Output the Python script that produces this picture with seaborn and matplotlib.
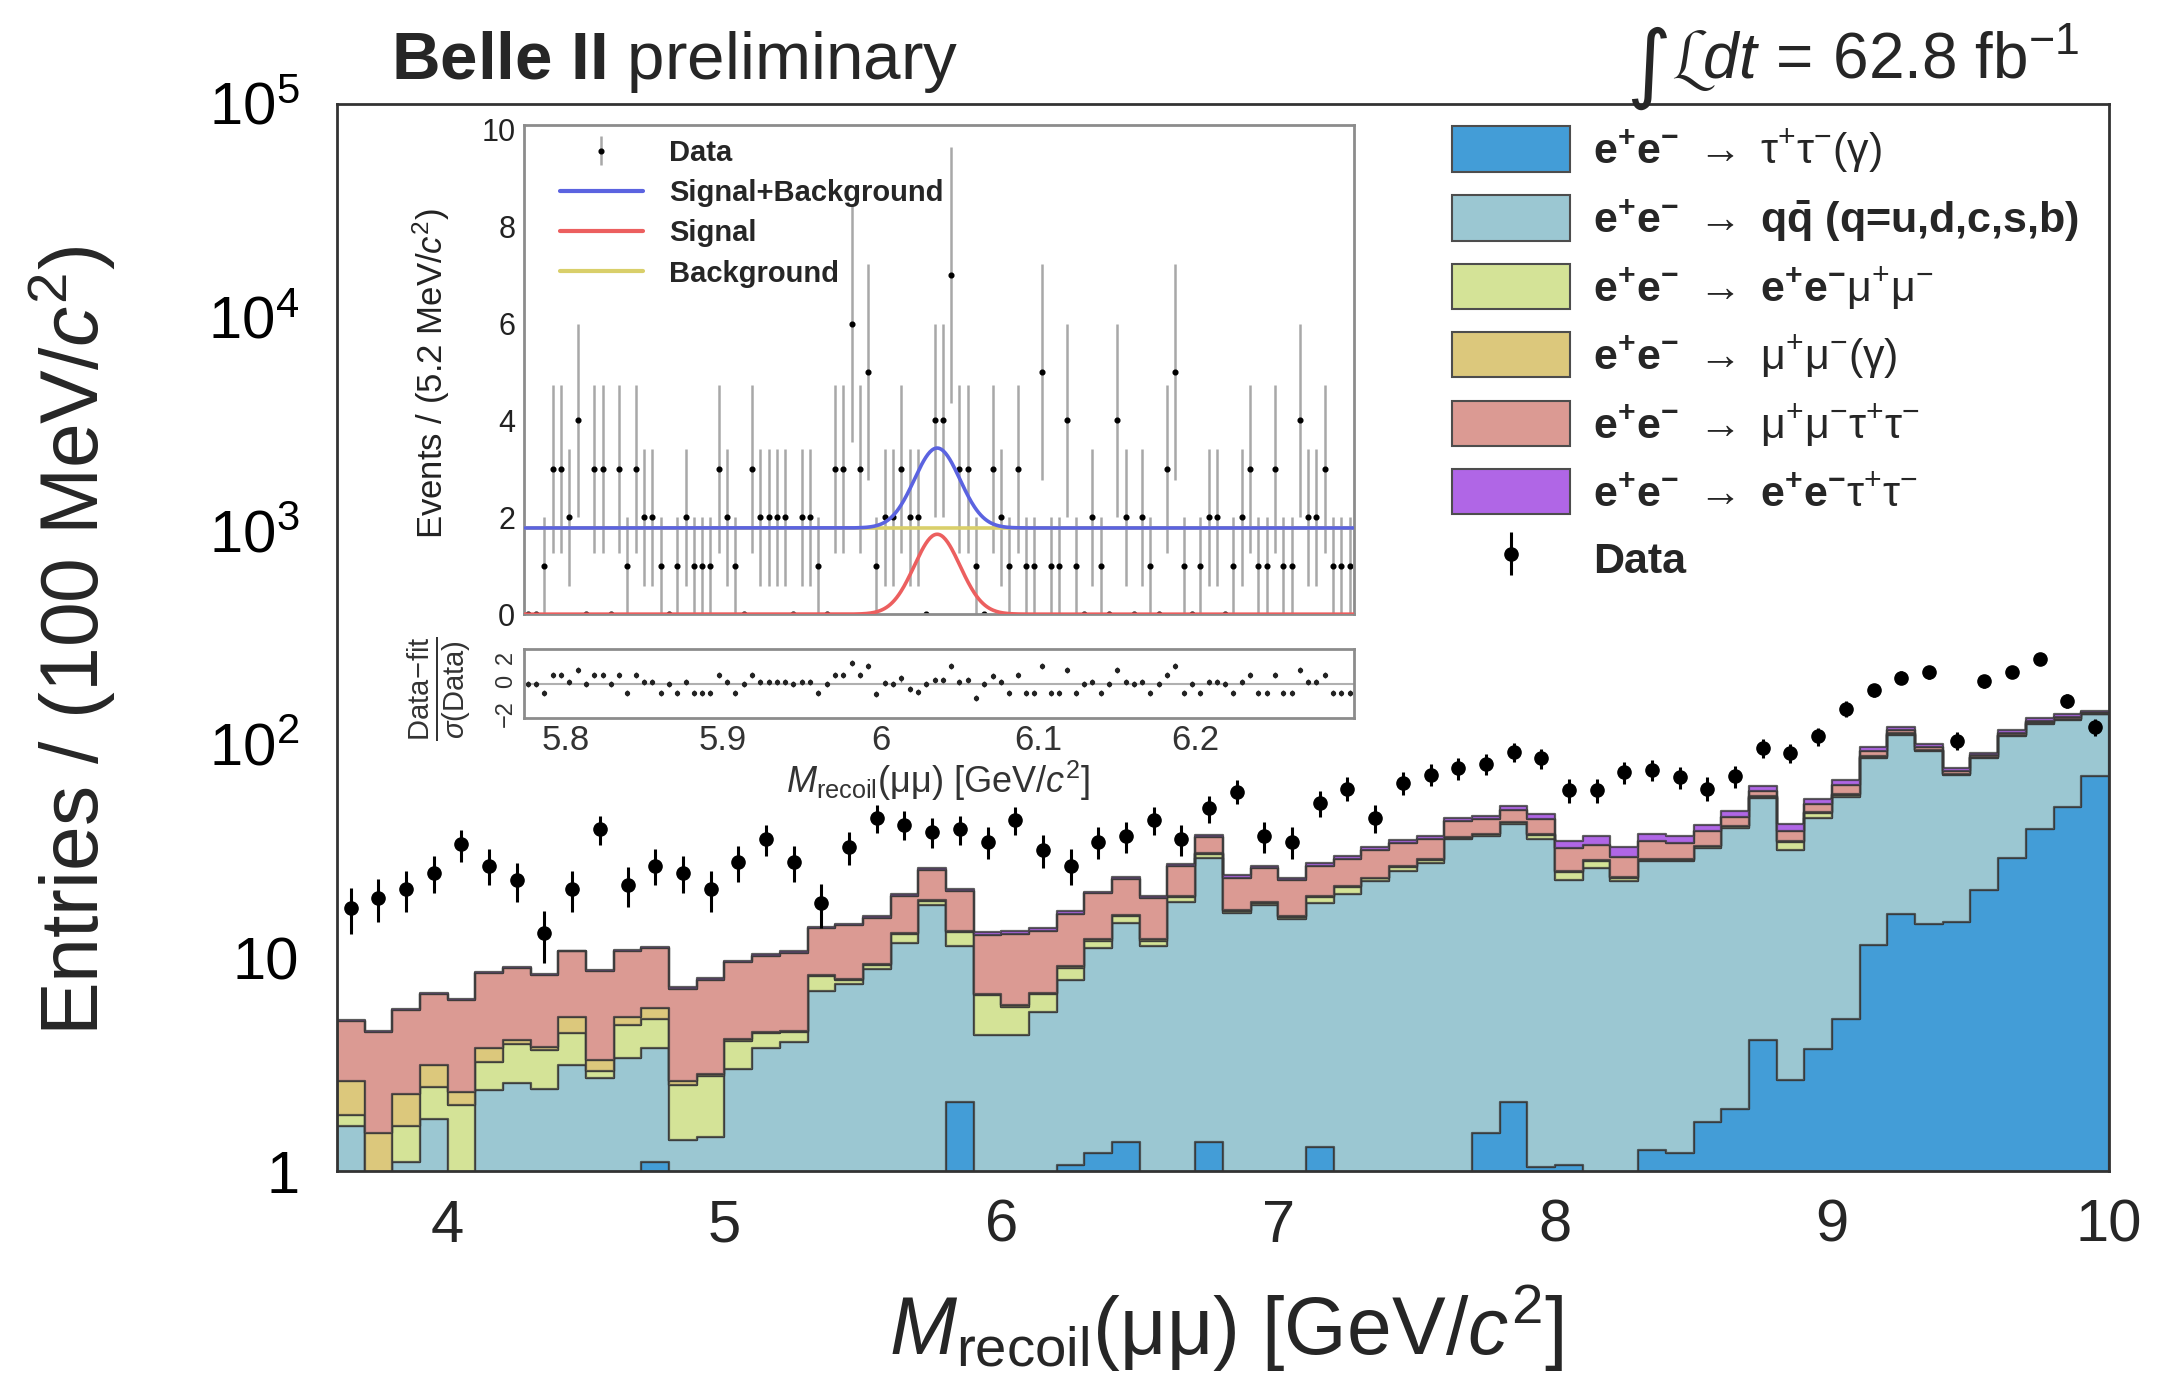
import numpy as np
import pandas as pd
import matplotlib
matplotlib.use("Agg")
import matplotlib.pyplot as plt
import seaborn as sns
from matplotlib.patches import Patch
from matplotlib.lines import Line2D
from matplotlib.ticker import LogLocator, NullFormatter, MultipleLocator, FixedLocator

# ---------------------------------------------------------------------------
# Main distribution: 100 MeV bins from 3.6 to 10.0 GeV/c^2
# ---------------------------------------------------------------------------
bin_lo, bin_hi = 3.6, 10.0

tautau = [0, 0, 0, 0, 0, 0, 0, 0, 0, 0, 0, 1.10, 0, 0, 0, 0,
          0, 0, 0, 0, 0, 0, 2.10, 0, 0, 0, 1.07, 1.22, 1.37, 0, 0, 1.37, 0,
          0, 0, 1.30, 0, 0, 0, 0, 0, 1.51, 2.10, 1.05, 1.07, 0, 0, 1.26, 1.22,
          1.70, 1.95, 4.13, 2.68, 3.75, 5.14, 11.5, 16.1, 14.4, 14.7, 20.8, 29.3, 39.9, 51.0, 70.7]
qqbar = [1.63, 0.60, 1.10, 1.76, 0.60, 2.39, 2.58, 2.43, 3.13, 2.73, 3.38, 2.69, 1.40, 1.45, 3.01, 3.79,
         4.01, 7.00, 7.56, 8.82, 11.7, 17.6, 9.20, 4.33, 4.33, 5.57, 6.78, 9.88, 13.13, 11.3, 18.3, 27.93, 16.2,
         17.6, 15.1, 16.7, 19.9, 22.8, 25.4, 27.8, 35.9, 35.79, 40.2, 34.85, 22.03, 26.2, 22.8, 27.04, 27.08,
         31.0, 38.75, 51.67, 29.42, 41.15, 51.76, 74.6, 94.9, 78.4, 56.8, 65.3, 79.7, 85.1, 79.0, 67.3]
eemumu = [0.20, 0.20, 0.53, 0.72, 1.45, 0.86, 1.37, 1.28, 1.29, 0.22, 1.48, 1.36, 1.13, 1.34, 1.08, 0.63,
          0.49, 1.18, 0.29, 0.38, 1.20, 0.80, 1.90, 2.32, 1.57, 1.17, 1.13, 0.90, 1.20, 0.70, 1.00, 1.30, 0.40,
          0.40, 0.40, 1.30, 1.50, 0.70, 1.30, 0.80, 0.50, 0.50, 0.70, 1.70, 2.10, 2.10, 0.90, 0.50, 0.50,
          0.50, 0.60, 0.70, 2.60, 2.70, 1.10, 0.90, 1.0, 0.7, 0.7, 0.7, 1.0, 1.0, 1.0, 1.0]
mumu_gamma = [0.80, 0.71, 0.67, 0.65, 0.29, 0.54, 0.15, 0.09, 0.83, 0.36, 0.39, 0.63, 0.10, 0.06, 0.06, 0.08,
              0.05, 0.12, 0.10, 0.10, 0.20, 0.30, 0.20, 0.10, 0.10, 0.11, 0.12, 0.20, 0.20, 0.20, 0.20, 0.30, 0.20,
              0.20, 0.20, 0.20, 0.20, 0.20, 0.20, 0.30, 0.30, 0.30, 0.40, 0.40, 0.30, 0.30, 0.30, 0.30, 0.30,
              0.30, 0.30, 0.50, 0.50, 0.50, 0.60, 0.80, 1.0, 0.8, 0.6, 0.6, 1.0, 1.0, 1.0, 1.0]
mumutautau = [2.42, 2.99, 3.37, 3.61, 4.01, 4.68, 4.87, 4.52, 5.45, 5.34, 5.45, 5.32, 4.51, 5.01, 5.35, 5.70,
              5.95, 5.40, 6.25, 6.10, 6.40, 7.10, 7.10, 6.05, 6.90, 6.45, 7.00, 7.80, 7.50, 6.80, 7.50, 6.00, 6.80,
              8.00, 7.40, 7.50, 7.50, 8.20, 7.60, 7.00, 7.00, 6.50, 5.80, 6.60, 7.00, 5.30, 5.50, 6.10, 5.40,
              5.60, 4.20, 3.50, 3.90, 4.50, 5.50, 5.00, 4.0, 3.2, 2.3, 1.6, 2.0, 2.0, 2.0, 1.0]
eetautau = [0.05, 0.05, 0.05, 0.06, 0.05, 0.08, 0.08, 0.08, 0.10, 0.07, 0.20, 0.15, 0.16, 0.14, 0.15, 0.20,
            0.20, 0.20, 0.20, 0.30, 0.40, 0.40, 0.50, 0.40, 0.40, 0.40, 0.40, 0.40, 0.50, 0.50, 0.50, 0.70, 0.90,
            0.80, 0.60, 0.80, 0.90, 1.20, 1.10, 1.40, 1.40, 1.40, 2.10, 2.70, 2.60, 3.20, 3.60, 2.80, 2.80,
            2.60, 2.80, 2.90, 3.20, 3.00, 3.80, 4.10, 3.0, 3.1, 2.2, 2.4, 3.0, 4.0, 4.0, 2.0]
data_counts = [17, 19, 21, 25, 34, 27, 23, 13, 21, 40, 22, 27, 25, 21, 28, 36,
               28, 18, 33, 45, 42, 39, 40, 35, 44, 32, 27, 35, 37, 44, 36, 50, 60,
               37, 35, 53, 62, 45, 66, 72, 77, 81, 92, 86, 61, 61, 74, 76, 70,
               62, 71, 96, 91, 109, 147, 179, 205, 217, 104, 197, 219, 250, 160, 120]

process_labels = [
    r"$\mathbf{e^{+}e^{-}}\ \rightarrow\ \mathrm{\tau^{+}\tau^{-}(\gamma)}$",
    r"$\mathbf{e^{+}e^{-}}\ \rightarrow\ \mathbf{q\bar{q}}$ (q=u,d,c,s,b)",
    r"$\mathbf{e^{+}e^{-}}\ \rightarrow\ \mathbf{e^{+}e^{-}}\mathrm{\mu^{+}\mu^{-}}$",
    r"$\mathbf{e^{+}e^{-}}\ \rightarrow\ \mathrm{\mu^{+}\mu^{-}(\gamma)}$",
    r"$\mathbf{e^{+}e^{-}}\ \rightarrow\ \mathrm{\mu^{+}\mu^{-}\tau^{+}\tau^{-}}$",
    r"$\mathbf{e^{+}e^{-}}\ \rightarrow\ \mathbf{e^{+}e^{-}}\mathrm{\tau^{+}\tau^{-}}$",
]
process_colors = ["#439dd7", "#9bc7d2", "#d4e397", "#dcc87c", "#db9a93", "#b066e6"]

# ---------------------------------------------------------------------------
# Inset: fine-binned fit around the candidate peak
# ---------------------------------------------------------------------------
inset_lo, inset_hi = 5.7735, 6.3005
inset_counts = [0, 0, 1, 3, 3, 2, 4, 0, 3, 3, 0, 3, 1, 3, 2, 2, 1, 0, 1, 2,
                1, 1, 1, 3, 2, 1, 0, 3, 2, 2, 2, 2, 0, 2, 2, 1, 0, 3, 3, 6,
                3, 5, 1, 2, 2, 3, 2, 2, 0, 4, 4, 7, 3, 3, 1, 0, 3, 2, 1, 3,
                1, 1, 5, 1, 1, 4, 1, 0, 2, 1, 0, 4, 2, 0, 2, 1, 0, 3, 5, 1,
                0, 1, 2, 2, 0, 1, 2, 3, 1, 1, 3, 1, 1, 4, 2, 2, 3, 1, 1, 1]
fit_bkg_level = 1.78
fit_sig_peak = 1.65
fit_sig_mean = 6.036
fit_sig_width = 0.0145

# ---------------------------------------------------------------------------
sns.set_theme(style="white")
plt.rcParams["font.family"] = ["Liberation Sans", "DejaVu Sans"]
plt.rcParams["mathtext.fontset"] = "custom"
plt.rcParams["mathtext.rm"] = "Liberation Sans"
plt.rcParams["mathtext.it"] = "Liberation Sans:italic"
plt.rcParams["mathtext.bf"] = "Liberation Sans:bold"
plt.rcParams["mathtext.sf"] = "Liberation Sans"

fig = plt.figure(figsize=(21.73, 13.74), dpi=100)
ax = fig.add_axes([0.155, 0.1477, 0.8155, 0.7766])

n_bins = len(data_counts)
edges = np.linspace(bin_lo, bin_hi, n_bins + 1)
centers = 0.5 * (edges[:-1] + edges[1:])
components = [tautau, qqbar, eemumu, mumu_gamma, mumutautau, eetautau]

frames = []
for lab, vals in zip(process_labels, components):
    frames.append(pd.DataFrame({"m": centers, "w": vals, "proc": lab}))
mc = pd.concat(frames, ignore_index=True)

sns.histplot(data=mc, x="m", weights="w", hue="proc",
             hue_order=process_labels[::-1], bins=n_bins,
             binrange=(bin_lo, bin_hi),
             multiple="stack", element="step", fill=True, alpha=1.0,
             palette=dict(zip(process_labels, process_colors)),
             linewidth=1.6, edgecolor=(0.22, 0.22, 0.22, 0.8),
             legend=False, ax=ax)
ax.set_yscale("log")
ax.set_xlim(bin_lo, bin_hi)
ax.set_ylim(1, 1e5)

data_arr = np.array(data_counts, dtype=float)
data_eb = ax.errorbar(centers, data_arr, yerr=np.sqrt(data_arr), fmt="o",
                      color="black", ms=9.5, elinewidth=2.2, capsize=0, zorder=5)

ax.set_xlabel("")
ax.set_ylabel("")
ax.yaxis.set_major_locator(FixedLocator([1, 10, 1e2, 1e3, 1e4, 1e5]))
ax.set_yticklabels(["1", "10", r"$10^{2}$", r"$10^{3}$", r"$10^{4}$", r"$10^{5}$"])
ax.yaxis.set_minor_locator(LogLocator(base=10, subs=np.arange(2, 10)))
ax.yaxis.set_minor_formatter(NullFormatter())
ax.set_xticks([4, 5, 6, 7, 8, 9, 10])
ax.tick_params(axis="y", which="major", direction="in", length=22, width=1.6,
               labelsize=43, pad=27, colors="#222222", labelcolor="black")
ax.tick_params(axis="y", which="minor", direction="in", length=11, width=1.2,
               colors="#444444")
ax.tick_params(axis="x", which="both", length=0, labelsize=43, pad=20)
for sp in ax.spines.values():
    sp.set_color("#333333")
    sp.set_linewidth(2.0)

fig.text(0.5645, 0.0146, r"$M_{\mathrm{recoil}}(\mathrm{\mu\mu})$ [GeV/$c^{2}$]",
         ha="center", va="baseline", fontsize=58)
fig.text(0.033, 0.5335, r"Entries / (100 MeV/$c^{2}$)", rotation=90,
         ha="center", va="center", fontsize=58)

fig.text(0.180, 0.9425, r"$\mathbf{Belle\ II}$ preliminary", ha="left",
         va="baseline", fontsize=48.5)
lumi = fig.text(0.957, 0.9425, r"$\mathcal{L}dt\,=\,62.8\ \mathrm{fb}^{-1}$",
                ha="right", va="baseline", fontsize=46)
fig.canvas.draw()
lbb = lumi.get_window_extent().transformed(fig.transFigure.inverted())
fig.text(lbb.x0 - 0.001, 0.933, "\u222b", ha="right", va="baseline",
         fontsize=62, family="DejaVu Sans")

handles = [Patch(facecolor=c, edgecolor=(0.3, 0.3, 0.3), linewidth=1.5)
           for c in process_colors] + [data_eb]
labels = process_labels + ["Data"]
fig.legend(handles, labels, loc="upper left", bbox_to_anchor=(0.668, 0.908),
           frameon=False, borderpad=0, borderaxespad=0, handlelength=2.74,
           handleheight=1.25, handletextpad=0.55, labelspacing=0.47,
           prop={"size": 31, "weight": "bold"})

# ---------------------------------------------------------------------------
# Inset fit panel
# ---------------------------------------------------------------------------
ax_in = fig.add_axes([0.241, 0.553, 0.382, 0.356])
ax_res = fig.add_axes([0.241, 0.4774, 0.382, 0.050])

iedges = np.linspace(inset_lo, inset_hi, len(inset_counts) + 1)
icent = 0.5 * (iedges[:-1] + iedges[1:])
icounts = np.array(inset_counts, dtype=float)

xx = np.linspace(inset_lo, inset_hi, 800)
sig_curve = fit_sig_peak * np.exp(-0.5 * ((xx - fit_sig_mean) / fit_sig_width) ** 2)
bkg_curve = np.full_like(xx, fit_bkg_level)
curves = pd.DataFrame({
    "x": np.concatenate([xx, xx, xx]),
    "y": np.concatenate([bkg_curve, sig_curve, sig_curve + bkg_curve]),
    "comp": ["Background"] * len(xx) + ["Signal"] * len(xx) + ["Signal+Background"] * len(xx),
})
fit_colors = {"Signal+Background": "#5b63e0", "Signal": "#ec5f5f", "Background": "#d9cf6a"}

in_eb = ax_in.errorbar(icent, icounts, yerr=np.sqrt(icounts), fmt="o", ms=3.4,
                       color="black", ecolor="#a8a8a8", elinewidth=1.8, capsize=0,
                       zorder=2)
sns.lineplot(data=curves, x="x", y="y", hue="comp",
             hue_order=["Background", "Signal", "Signal+Background"],
             palette=fit_colors, linewidth=2.6, legend=False, ax=ax_in, zorder=3)
ax_in.set_xlim(inset_lo, inset_hi)
ax_in.set_ylim(0, 10.1)
ax_in.set_xlabel("")
ax_in.set_ylabel("")
ax_in.yaxis.set_major_locator(MultipleLocator(2))
ax_in.yaxis.set_minor_locator(MultipleLocator(0.5))
ax_in.xaxis.set_major_locator(MultipleLocator(0.1))
ax_in.xaxis.set_minor_locator(MultipleLocator(0.02))
ax_in.tick_params(axis="y", which="major", direction="in", length=14, width=1.2,
                  labelsize=22, pad=6, colors="#777777", labelcolor="#222222")
ax_in.tick_params(axis="y", which="minor", direction="in", length=7, width=1.0,
                  colors="#999999")
ax_in.tick_params(axis="x", which="both", direction="in", length=7, width=1.0,
                  labelbottom=False, colors="#999999")
for sp in ax_in.spines.values():
    sp.set_color("#8c8c8c")
    sp.set_linewidth(2.0)

leg_handles = [in_eb,
               Line2D([], [], color=fit_colors["Signal+Background"], lw=3),
               Line2D([], [], color=fit_colors["Signal"], lw=3),
               Line2D([], [], color=fit_colors["Background"], lw=3)]
ax_in.legend(leg_handles, ["Data", "Signal+Background", "Signal", "Background"],
             loc="upper left", bbox_to_anchor=(0.2508, 0.9095),
             bbox_transform=fig.transFigure, frameon=False, borderpad=0,
             handlelength=2.85, handletextpad=0.9, labelspacing=0.42,
             prop={"size": 21, "weight": "bold"})

fig.text(0.1985, 0.728, r"Events / (5.2 MeV/$c^{2}$)", rotation=90,
         ha="center", va="center", fontsize=25, color="#222222")

# residual panel
fit_at_bins = fit_bkg_level + fit_sig_peak * np.exp(
    -0.5 * ((icent - fit_sig_mean) / fit_sig_width) ** 2)
pull = np.where(icounts > 0, (icounts - fit_at_bins) / np.sqrt(np.maximum(icounts, 1)), 0.0)
ax_res.axhline(0, color="#b0b0b0", lw=1.5, zorder=1)
ax_res.errorbar(icent, pull, yerr=0.25, fmt="o", ms=2.8, color="#222222",
                ecolor="#555555", elinewidth=1.0, capsize=0, zorder=2)
ax_res.set_xlim(inset_lo, inset_hi)
ax_res.set_ylim(-2.8, 2.8)
ax_res.yaxis.set_major_locator(FixedLocator([-2, 0, 2]))
ax_res.xaxis.set_minor_locator(MultipleLocator(0.02))
ax_res.set_xticks([5.8, 5.9, 6.0, 6.1, 6.2])
ax_res.set_xticklabels(["5.8", "5.9", "6", "6.1", "6.2"])
ax_res.tick_params(axis="x", which="major", direction="in", length=8, width=1.0,
                   labelsize=25, pad=4, colors="#999999", labelcolor="#333333")
ax_res.tick_params(axis="x", which="minor", direction="in", length=4, width=1.0,
                   colors="#999999")
ax_res.tick_params(axis="y", which="major", direction="in", length=6, width=1.0,
                   labelsize=17, pad=5, colors="#999999", labelcolor="#333333",
                   labelrotation=90)
for sp in ax_res.spines.values():
    sp.set_color("#8c8c8c")
    sp.set_linewidth(2.0)

fig.text(0.2025, 0.4985, r"$\frac{\mathrm{Data\!-\!fit}}{\sigma(\mathrm{Data})}$",
         rotation=90, ha="center", va="center", fontsize=30, color="#333333")
fig.text(0.4317, 0.4225, r"$M_{\mathrm{recoil}}(\mathrm{\mu\mu})$ [GeV/$c^{2}$]",
         ha="center", va="baseline", fontsize=26, color="#333333")

fig.savefig("out.png", dpi=100, facecolor="white")
